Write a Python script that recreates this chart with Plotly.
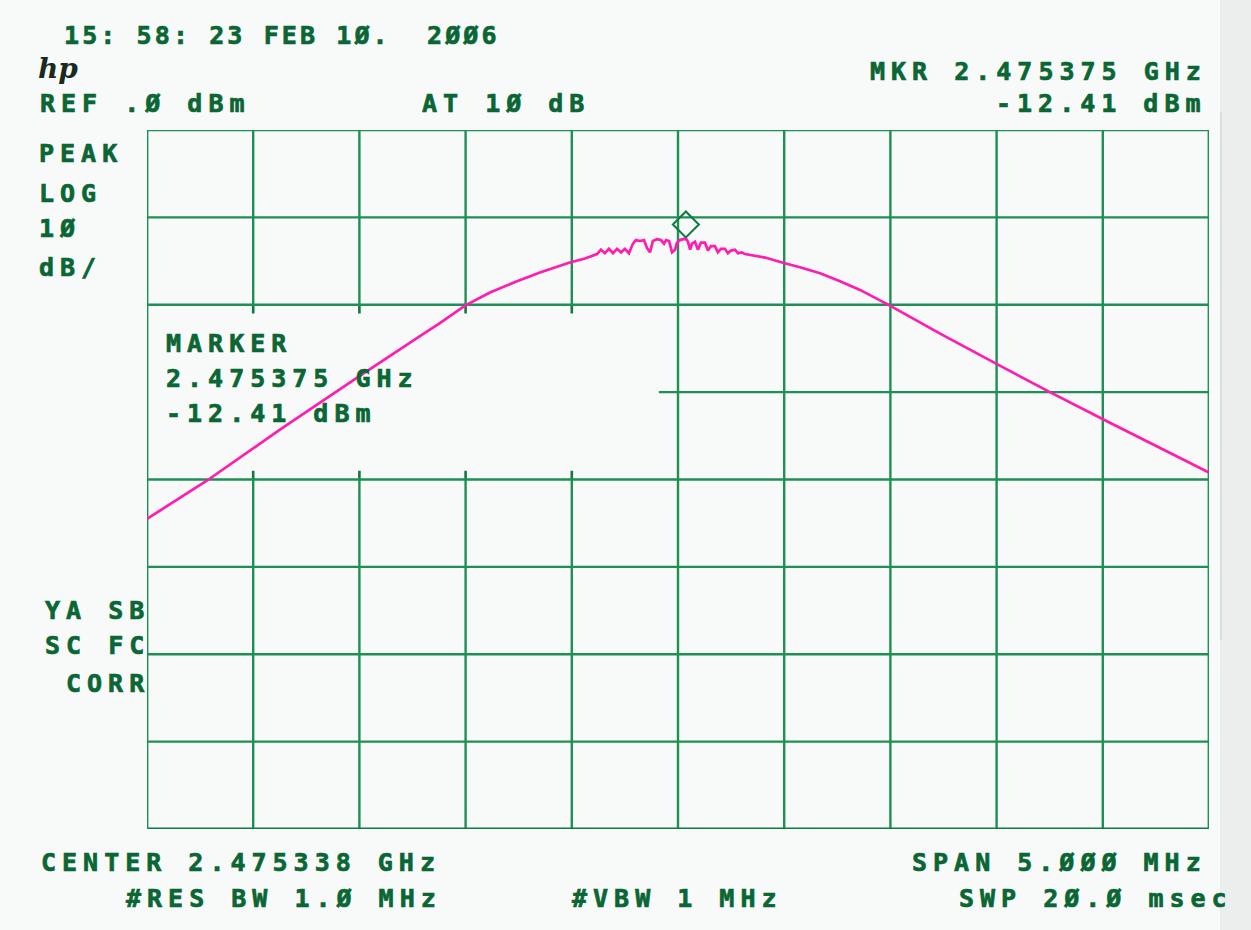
import plotly.graph_objects as go

# ---------------- data ----------------
CENTER_GHZ = 2.475338
SPAN_MHZ = 5.0
REF_DBM = 0.0
DB_PER_DIV = 10
MKR_GHZ = 2.475375
MKR_DBM = -12.41

# trace: frequency offset from center (MHz) and level (dBm)
freq_offset_mhz = [
    -2.500, -2.222, -1.874, -1.521, -1.215, -1.121, -1.003, -0.885, -0.767, -0.650,
    -0.513, -0.438, -0.381, -0.363, -0.344, -0.325, -0.306, -0.287, -0.268, -0.250,
    -0.231, -0.212, -0.198, -0.179, -0.160, -0.146, -0.132, -0.118, -0.099, -0.080,
    -0.066, -0.056, -0.042, -0.028, -0.014, -0.005, 0.009, 0.028, 0.037, 0.047,
    0.057, 0.066, 0.080, 0.094, 0.108, 0.127, 0.141, 0.155, 0.174, 0.188,
    0.202, 0.221, 0.235, 0.250, 0.268, 0.282, 0.301, 0.315, 0.410, 0.494,
    0.574, 0.669, 0.763, 0.857, 0.928, 0.998, 1.116, 1.234, 1.502, 1.751,
    2.001, 2.222, 2.500,
]
level_dbm = [
    -44.5, -40.2, -34.3, -28.5, -23.6, -22.1, -20.1, -18.6, -17.4, -16.3,
    -15.2, -14.7, -14.2, -13.7, -14.1, -13.6, -14.1, -13.6, -14.0, -13.6,
    -14.1, -13.0, -12.6, -12.7, -12.6, -13.5, -14.0, -12.7, -12.5, -12.6,
    -13.0, -12.6, -12.7, -14.0, -13.7, -12.9, -12.6, -12.5, -12.41, -12.8,
    -13.7, -13.0, -12.8, -13.7, -12.9, -12.9, -13.8, -13.3, -13.3, -14.0,
    -13.6, -13.6, -14.1, -13.8, -13.7, -14.1, -14.0, -14.2, -14.6, -15.2,
    -15.7, -16.4, -17.3, -18.3, -19.2, -20.1, -21.7, -23.3, -26.8, -30.0,
    -33.1, -35.8, -39.2,
]

x_ticks = [-2.5 + 0.5 * i for i in range(11)]
y_ticks = [REF_DBM - DB_PER_DIV * i for i in range(9)]

# ---------------- style ----------------
GRID = "#1f8f55"
GRID_DARK = "#127842"
TEXT = "#0a6634"
TRACE = "#ff1cb0"
BG = "#f7faf8"
FONT = "DejaVu Sans Mono"
FSIZE = 25
LS = 6  # letter spacing px

x0, x1 = x_ticks[0], x_ticks[-1]
y0, y1 = y_ticks[-1], y_ticks[0]

fig = go.Figure()

box_x = (x_ticks[0], x_ticks[5])
box_y = (y_ticks[4], y_ticks[2])
stub_y = 1.0
stub_x = 0.09

shapes = []
def seg(xa, ya, xb, yb, w=2.4, c=GRID):
    shapes.append(dict(type="line", xref="x", yref="y", x0=xa, y0=ya, x1=xb, y1=yb,
                       line=dict(color=c, width=w), layer="below"))

for xv in x_ticks[1:-1]:
    if box_x[0] < xv < box_x[1]:
        seg(xv, y0, xv, box_y[0])
        seg(xv, box_y[1], xv, y1)
        seg(xv, box_y[0], xv, box_y[0] + stub_y, w=2.6, c=GRID_DARK)
        seg(xv, box_y[1] - stub_y, xv, box_y[1], w=2.6, c=GRID_DARK)
    else:
        seg(xv, y0, xv, y1)
for yv in y_ticks[1:-1]:
    if box_y[0] < yv < box_y[1]:
        seg(box_x[1] - stub_x, yv, x1, yv)
    else:
        seg(x0, yv, x1, yv)
seg(x0, y0, x1, y0, w=3, c=GRID_DARK)
seg(x0, y1, x1, y1, w=2.6, c=GRID)
seg(x0, y0, x0, y1, w=2.8, c=GRID)
seg(x1, y0, x1, y1, w=2.8, c=GRID)

shapes.append(dict(type="rect", xref="paper", yref="paper", x0=1220 / 1251, x1=1, y0=0, y1=1,
                   fillcolor="#eceeed", line=dict(width=0), layer="below"))
shapes.append(dict(type="line", xref="paper", yref="paper", x0=1221 / 1251, x1=1221 / 1251,
                   y0=1 - 640 / 930, y1=1 - 112 / 930, line=dict(color="#d6d9d7", width=1.5), layer="below"))

fig.add_trace(go.Scatter(x=freq_offset_mhz, y=level_dbm, mode="lines",
                         line=dict(color=TRACE, width=2.7), hoverinfo="skip", showlegend=False))

mkr_off = (MKR_GHZ - CENTER_GHZ) * 1000
fig.add_trace(go.Scatter(x=[mkr_off], y=[MKR_DBM + 1.6], mode="markers",
                         marker=dict(symbol="diamond-open", size=20, color=GRID_DARK,
                                     line=dict(width=2, color=GRID_DARK)),
                         hoverinfo="skip", showlegend=False))

W, H = 1251, 930
ann = []
def txt(s, x, y, anchor="left", ls=LS):
    if anchor == "right":
        x += ls
    ann.append(dict(text=f'<span style="letter-spacing:{ls}px;stroke:{TEXT};stroke-width:0.7px">{s}</span>',
                    x=x / W, y=1 - y / H, xref="paper", yref="paper",
                    xanchor=anchor, yanchor="middle", showarrow=False,
                    font=dict(family=FONT, size=FSIZE, color=TEXT, weight="bold")))

txt("15: 58: 23 FEB 1Ø.  2ØØ6", 62, 36, ls=3.1)
ann.append(dict(text="<b><i>hp</i></b>", x=36 / W, y=1 - 68 / H, xref="paper", yref="paper",
                xanchor="left", yanchor="middle", showarrow=False,
                font=dict(family="DejaVu Serif", size=28, color="#1a2a20")))
txt("REF .Ø dBm", 38, 104)
txt("AT 1Ø dB", 420, 104)
txt("MKR 2.475375 GHz", 1203, 72, anchor="right")
txt("-12.41 dBm", 1203, 104, anchor="right")
txt("PEAK", 37, 153)
txt("LOG", 37, 193)
txt("1Ø", 37, 229)
txt("dB/", 37, 267)
txt("MARKER", 164, 343)
txt("2.475375 GHz", 164, 378)
txt("-12.41 dBm", 164, 413)
txt("YA SB", 146, 610, anchor="right")
txt("SC FC", 146, 645, anchor="right")
txt("CORR", 146, 683, anchor="right")
txt("CENTER 2.475338 GHz", 39, 862)
txt("#RES BW 1.Ø MHz", 124, 898)
txt("#VBW 1 MHz", 570, 898)
txt("SPAN 5.ØØØ MHz", 1203, 862, anchor="right")
txt("SWP 2Ø.Ø msec", 1229, 898, anchor="right")

fig.update_layout(
    width=W, height=H,
    margin=dict(l=0, r=0, t=0, b=0),
    paper_bgcolor=BG, plot_bgcolor=BG,
    shapes=shapes, annotations=ann,
    showlegend=False,
    xaxis=dict(domain=[147 / W, 1209 / W], range=[x0, x1], showgrid=False, zeroline=False,
               showticklabels=False, ticks="", showline=False, fixedrange=True),
    yaxis=dict(domain=[1 - 829 / H, 1 - 130 / H], range=[y0, y1], showgrid=False, zeroline=False,
               showticklabels=False, ticks="", showline=False, fixedrange=True),
)

fig.write_html("out.html")
